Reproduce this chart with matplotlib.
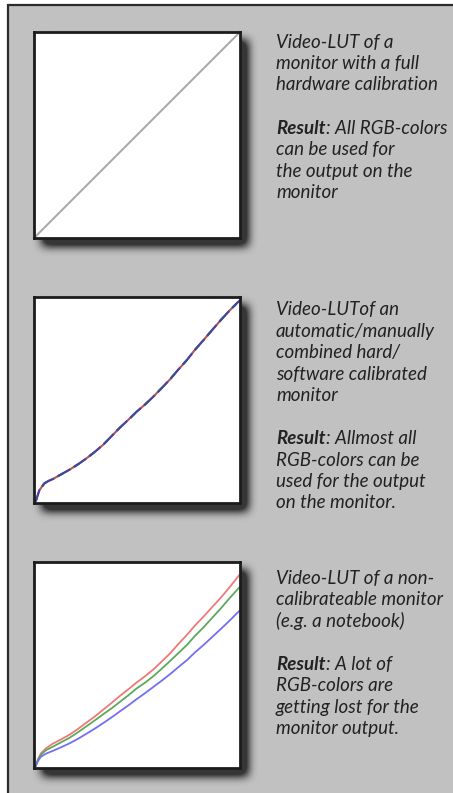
import numpy as np
import matplotlib
matplotlib.use("Agg")
import matplotlib.pyplot as plt
from matplotlib.patches import Rectangle

# ---------------- data ----------------
lut1_x = [0.0, 1.0]
lut1_y = [0.0, 1.0]

lut2_x = [0.0, 0.01, 0.026, 0.05, 0.07, 0.091, 0.13, 0.173, 0.214, 0.254, 0.295,
          0.336, 0.377, 0.417, 0.458, 0.498, 0.54, 0.58, 0.62, 0.661, 0.70,
          0.743, 0.78, 0.824, 0.865, 0.906, 0.95, 0.995]
lut2_y = [0.0, 0.013, 0.062, 0.095, 0.107, 0.116, 0.138, 0.162, 0.188, 0.216, 0.248,
          0.283, 0.325, 0.366, 0.404, 0.443, 0.479, 0.517, 0.558, 0.601, 0.647,
          0.695, 0.742, 0.792, 0.84, 0.887, 0.935, 0.98]

lut3_x = [0.0, 0.007, 0.02, 0.034, 0.059, 0.091, 0.13, 0.173, 0.214, 0.254, 0.295,
          0.336, 0.377, 0.417, 0.458, 0.498, 0.54, 0.58, 0.62, 0.661, 0.70,
          0.743, 0.78, 0.824, 0.865, 0.906, 0.95, 0.995]
lut3_red = [0.0, 0.007, 0.045, 0.072, 0.096, 0.118, 0.138, 0.162, 0.19, 0.22, 0.25,
            0.283, 0.316, 0.35, 0.382, 0.415, 0.446, 0.479, 0.517, 0.557, 0.601,
            0.647, 0.69, 0.736, 0.781, 0.826, 0.878, 0.935]
lut3_green = [0.0, 0.007, 0.04, 0.065, 0.087, 0.103, 0.124, 0.147, 0.174, 0.202, 0.231,
              0.261, 0.29, 0.321, 0.353, 0.386, 0.415, 0.446, 0.482, 0.52, 0.557,
              0.598, 0.64, 0.684, 0.729, 0.774, 0.825, 0.875]
lut3_blue = [0.0, 0.007, 0.035, 0.055, 0.07, 0.083, 0.1, 0.12, 0.142, 0.166, 0.191,
             0.218, 0.246, 0.275, 0.304, 0.334, 0.364, 0.394, 0.424, 0.456, 0.489,
             0.524, 0.56, 0.598, 0.636, 0.674, 0.716, 0.761]

texts1 = [("", "Video-LUT of a"), ("", "monitor with a full"),
          ("", "hardware calibration"), None,
          ("Result", ": All RGB-colors"), ("", "can be used for"),
          ("", "the output on the"), ("", "monitor")]
texts2 = [("", "Video-LUTof an"), ("", "automatic/manually"),
          ("", "combined hard/"), ("", "software calibrated"), ("", "monitor"), None,
          ("Result", ": Allmost all"), ("", "RGB-colors can be"),
          ("", "used for the output"), ("", "on the monitor.")]
texts3 = [("", "Video-LUT of a non-"), ("", "calibrateable monitor"),
          ("", "(e.g. a notebook)"), None,
          ("Result", ": A lot of"), ("", "RGB-colors are"),
          ("", "getting lost for the"), ("", "monitor output.")]

# ---------------- layout ----------------
W, H = 453, 793
fig = plt.figure(figsize=(W / 100, H / 100), dpi=100)
fig.patch.set_facecolor("white")

bg = fig.add_axes([0, 0, 1, 1])
bg.set_xlim(0, W)
bg.set_ylim(H, 0)
bg.axis("off")
bg.add_patch(Rectangle((8, 5), W + 20, H + 20, facecolor="#c1c1c1",
                       edgecolor="#2b2b2b", linewidth=1.6))

box = 206
tops = [32, 297, 562]
left = 34
off = 8

# shadows (blurred image)
mask = np.zeros((H, W))
for t in tops:
    mask[t + off:t + off + box, left + off:left + off + box] = 1.0


def blur(a, r):
    for axis in (0, 1):
        c = np.cumsum(np.pad(a, [(r + 1, r) if i == axis else (0, 0) for i in range(2)],
                             mode="edge"), axis=axis)
        if axis == 0:
            a = (c[2 * r + 1:, :] - c[:-2 * r - 1, :]) / (2 * r + 1)
        else:
            a = (c[:, 2 * r + 1:] - c[:, :-2 * r - 1]) / (2 * r + 1)
    return a


for _ in range(3):
    mask = blur(mask, 4)
rgba = np.zeros((H, W, 4))
rgba[..., 3] = np.clip(mask * 1.15, 0, 0.72)
bg.imshow(rgba, extent=(0, W, H, 0), interpolation="bilinear", zorder=2)


def add_panel(top):
    ax = fig.add_axes([left / W, 1 - (top + box) / H, box / W, box / H])
    ax.set_xlim(0, 1)
    ax.set_ylim(0, 1)
    ax.set_xticks([])
    ax.set_yticks([])
    ax.set_facecolor("white")
    for s in ax.spines.values():
        s.set_linewidth(2.0)
        s.set_color("#1c1c1c")
    return ax


ax1 = add_panel(tops[0])
ax1.plot(lut1_x, lut1_y, color="#a8a8a8", lw=1.4)

ax2 = add_panel(tops[1])
ax2.plot(lut2_x, lut2_y, color="#c05050", lw=1.5)
ax2.plot(lut2_x, lut2_y, color="#409040", lw=1.5, dashes=(3, 6))
ax2.plot(lut2_x, lut2_y, color="#3a48a8", lw=1.5, dashes=(7, 2))

ax3 = add_panel(tops[2])
ax3.plot(lut3_x, lut3_red, color="#f07878", lw=1.3)
ax3.plot(lut3_x, lut3_green, color="#5aaa5a", lw=1.3)
ax3.plot(lut3_x, lut3_blue, color="#7070f0", lw=1.3)

# ---------------- texts ----------------
fig.canvas.draw()
renderer = fig.canvas.get_renderer()
fam = ["Lato", "DejaVu Sans"]
fs = 13.5
tx = 276
step = 21.5
firsts = [47.5, 315, 583.5]
tcol = "#222222"

for lines, y0 in zip([texts1, texts2, texts3], firsts):
    for i, ln in enumerate(lines):
        if ln is None:
            continue
        y = y0 + i * step
        bold, rest = ln
        x = tx
        if bold:
            t = bg.text(x, y, bold, fontsize=fs, family=fam, style="italic",
                        weight="bold", color=tcol, va="baseline", ha="left")
            bb = t.get_window_extent(renderer)
            x = tx + bb.width
        bg.text(x, y, rest, fontsize=fs, family=fam, style="italic",
                color=tcol, va="baseline", ha="left")

fig.savefig("out.png", dpi=100)
